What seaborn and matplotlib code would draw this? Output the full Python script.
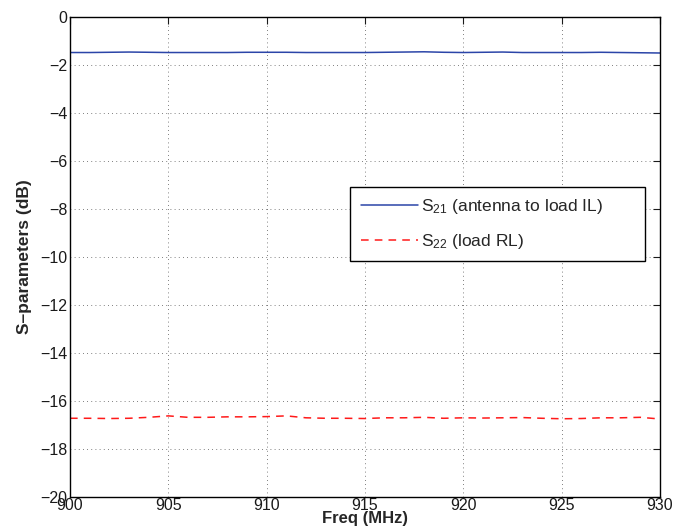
import matplotlib
matplotlib.use("Agg")
import matplotlib.pyplot as plt
import seaborn as sns
import pandas as pd

freq = list(range(900, 931))
s21 = [-1.48, -1.48, -1.47, -1.46, -1.47, -1.48, -1.48, -1.48, -1.48, -1.47, -1.47,
       -1.47, -1.48, -1.48, -1.48, -1.48, -1.47, -1.46, -1.45, -1.47, -1.48,
       -1.47, -1.46, -1.48, -1.48, -1.48, -1.48, -1.47, -1.48, -1.49, -1.50]
s22 = [-16.72, -16.72, -16.73, -16.72, -16.68, -16.62, -16.68, -16.68, -16.66, -16.66, -16.65,
       -16.62, -16.70, -16.72, -16.72, -16.73, -16.70, -16.70, -16.68, -16.72, -16.70,
       -16.71, -16.70, -16.69, -16.72, -16.74, -16.73, -16.70, -16.70, -16.68, -16.75]
labels = ["S$_{21}$ (antenna to load IL)", "S$_{22}$ (load RL)"]
xticks = [900, 905, 910, 915, 920, 925, 930]
yticks = list(range(-20, 1, 2))

sns.set_style("white")
plt.rcParams['font.family'] = ['Liberation Sans', 'DejaVu Sans']
plt.rcParams['mathtext.fontset'] = 'custom'
plt.rcParams['mathtext.rm'] = 'Liberation Sans'
plt.rcParams['mathtext.it'] = 'Liberation Sans'

df = pd.DataFrame({"freq": freq + freq, "val": s21 + s22,
                   "series": [labels[0]] * len(freq) + [labels[1]] * len(freq)})

fig = plt.figure(figsize=(6.78, 5.27), dpi=100)
ax = fig.add_axes([70/678, 30/527, 590/678, 480/527])

sns.lineplot(data=df[df.series == labels[0]], x="freq", y="val", ax=ax,
             color="#2b45a8", linewidth=1.1, label=labels[0])
sns.lineplot(data=df[df.series == labels[1]], x="freq", y="val", ax=ax,
             color="#ff1a1a", linewidth=1.1, linestyle=(0, (5, 4)), label=labels[1])

ax.set_xlim(900, 930)
ax.set_ylim(-20, 0)
ax.set_xticks(xticks)
ax.set_yticks(yticks)
ax.set_xticklabels([str(t) for t in xticks])
ax.set_yticklabels([str(t).replace('-', '\u2212') for t in yticks])
ax.grid(True, linestyle=(0, (1, 4)), color="#555555", linewidth=0.6)
ax.tick_params(direction="in", top=True, right=True, length=5, width=0.8,
               labelsize=11.5, colors="#1a1a1a", pad=2)
ax.tick_params(axis="x", pad=0.5)
for s in ax.spines.values():
    s.set_color("black")
    s.set_linewidth(1.0)

ax.set_xlabel("Freq (MHz)", fontsize=12, fontweight="bold", labelpad=-1)
ax.set_ylabel("S\u2013parameters (dB)", fontsize=12.5, fontweight="bold", labelpad=6)

leg = ax.legend(loc="upper left", bbox_to_anchor=(0.475, 0.0, 0.5, 0.646), mode="expand",
                fontsize=12.5, frameon=True, fancybox=False, edgecolor="black", framealpha=1,
                handlelength=3.3, borderpad=0.6, labelspacing=0.9, handletextpad=0.2,
                borderaxespad=0)
leg.get_frame().set_linewidth(1.0)

fig.savefig("out.png", dpi=100)
